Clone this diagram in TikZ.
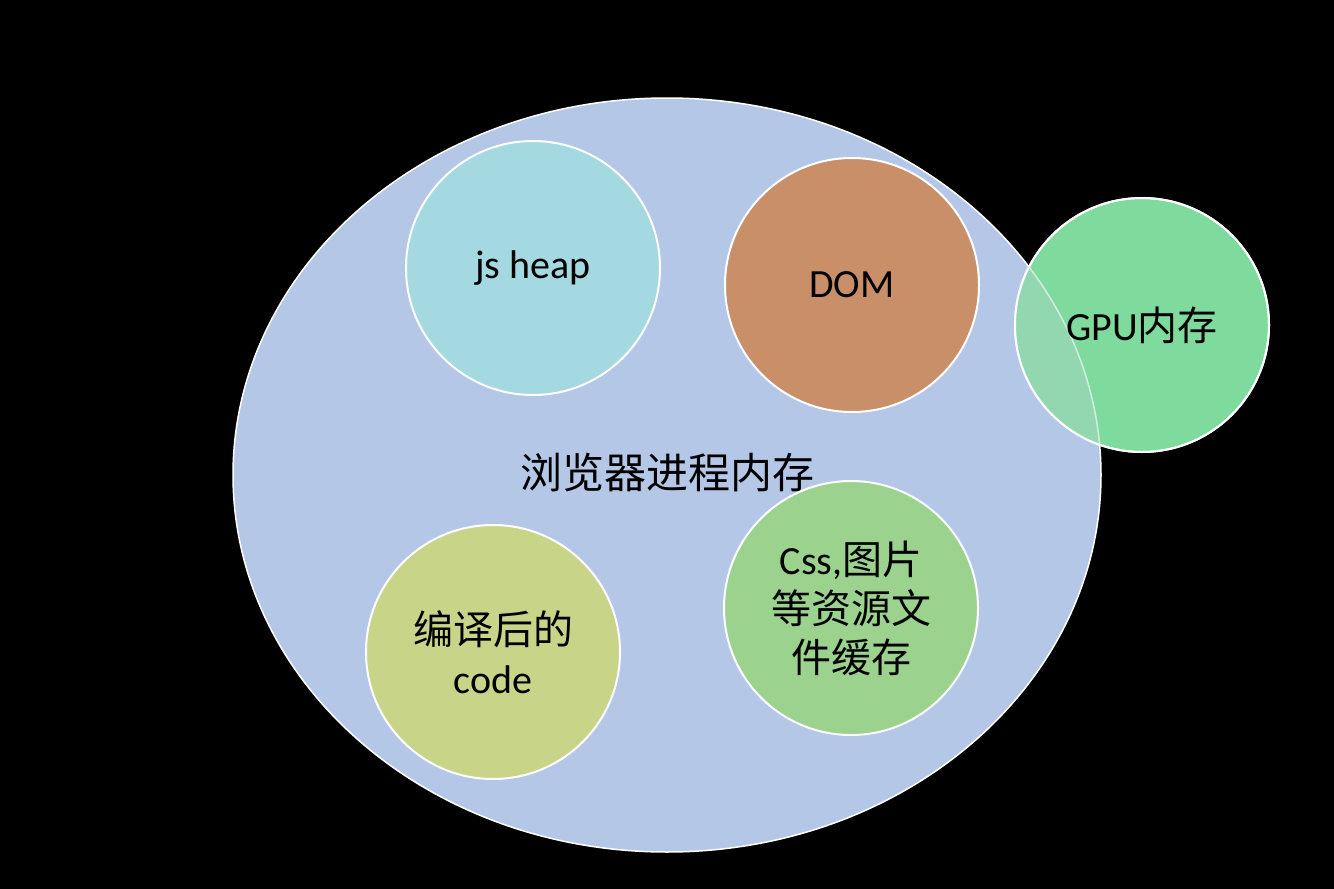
\documentclass[tikz,border=0pt]{standalone}
\usepackage{fontspec}
\setmainfont{Carlito}
\newfontfamily\cjk{Noto Sans CJK SC}
\definecolor{bigblue}{HTML}{B4C7E7}
\definecolor{jsc}{HTML}{A5D9E2}
\definecolor{domc}{HTML}{C98F68}
\definecolor{gpuc}{HTML}{7FDA9D}
\definecolor{gpuover}{HTML}{93D7B0}
\definecolor{cssc}{HTML}{9BD38E}
\definecolor{codec}{HTML}{C8D487}
\begin{document}
\begin{tikzpicture}[x=1pt,y=-1pt,
  bubble/.style={circle,draw=white,line width=2pt,minimum size=254pt,inner sep=0pt,align=center,font=\fontsize{40}{49}\selectfont}]
\fill[black] (0,0) rectangle (1334,889);
\useasboundingbox (0,0) rectangle (1334,889);
\path[draw=white,line width=1.5pt,fill=bigblue] (667,475) ellipse [x radius=434, y radius=377];
\node[font=\fontsize{42}{49}\selectfont\cjk] (mem) at (667,473) {浏览器进程内存};
\node[bubble,fill=jsc] (js) at (533,268) {js heap};
\node[bubble,fill=domc] (dom) at (852,285) {DOM};
\node[bubble,fill=gpuc] (gpu) at (1142,325) {};
\begin{scope}
  \clip (667,475) ellipse [x radius=434, y radius=377];
  \fill[gpuover] (1142,325) circle [radius=127];
\end{scope}
\begin{scope}
  \clip (1142,325) circle [radius=127];
  \draw[white,opacity=0.6,line width=1.5pt] (667,475) ellipse [x radius=434, y radius=377];
\end{scope}
\draw[white,line width=2pt] (gpu.center) circle [radius=127];
\node[font=\fontsize{40}{49}\selectfont] (gputext) at (gpu.center) {GPU{\cjk 内存}};
\node[bubble,fill=codec] (code) at (493,652) {{\cjk 编译后的}\\code};
\node[bubble,fill=cssc] (css) at (851,608) {Css,{\cjk 图片}\\{\cjk 等资源文}\\{\cjk 件缓存}};
\end{tikzpicture}
\end{document}
